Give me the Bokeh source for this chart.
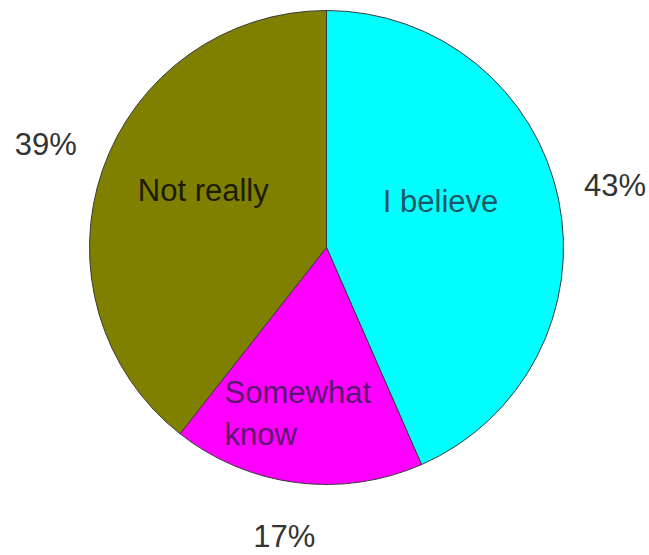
import math
from bokeh.plotting import figure
from bokeh.models import Range1d, ColumnDataSource
from bokeh.core.properties import value
from bokeh.embed import file_html
from bokeh.resources import INLINE

# ---- data ----
categories = ["I believe", "Somewhat know", "Not really"]
percents = [43, 17, 39]
pct_labels = ["43%", "17%", "39%"]
colors = ["#00FFFF", "#FF00FF", "#808000"]
text_colors = ["#1d5566", "#5b1770", "#1c1c00"]

# ---- layout (pixel-like data units, centre of pie at origin) ----
W, H = 649, 555
CX, CY = 326, 247          # pie centre relative to canvas top-left
R = 237

p = figure(width=W, height=H, output_backend="svg", toolbar_location=None,
           x_range=Range1d(-CX, W - CX), y_range=Range1d(CY - H, CY),
           min_border=0)
p.axis.visible = False
p.grid.visible = False
p.outline_line_color = None
p.background_fill_color = "white"

total = sum(percents)
starts, ends = [], []
a = math.pi / 2
for v in percents:
    sweep = v / total * 2 * math.pi
    starts.append(a)
    ends.append(a - sweep)
    a -= sweep

src = ColumnDataSource(dict(start=starts, end=ends, color=colors))
p.wedge(x=0, y=0, radius=R, start_angle="start", end_angle="end",
        direction="clock", fill_color="color", line_color="#3a3a3a",
        line_width=1, source=src)

# percentage labels outside the pie (radius, angle in degrees)
outer = [(295, 12.1), (292, -98.3), (299, 159.9)]
px = [r * math.cos(math.radians(g)) for r, g in outer]
py = [r * math.sin(math.radians(g)) for r, g in outer]
p.text(x=px, y=py, text=pct_labels, text_align="center",
       text_baseline="middle", text_font=value("Liberation Sans"),
       text_font_size="31px", text_color="#333333")

# category labels inside slices (radius, angle in degrees)
inner = [(123, 22), (195, -121.5), (136, 155)]
ix = [r * math.cos(math.radians(g)) for r, g in inner]
iy = [r * math.sin(math.radians(g)) for r, g in inner]
lab_text = ["I believe", "Somewhat\nknow", "Not really"]
aligns = ["center", "left", "center"]
for x, y, t, al, tc in zip(ix, iy, lab_text, aligns, text_colors):
    p.text(x=[x], y=[y], text=[t], text_align=al, text_baseline="middle",
           text_font=value("Liberation Sans"), text_font_size="31px",
           text_color=tc, text_line_height=1.2)

open("out.html", "w").write(file_html(p, INLINE))
